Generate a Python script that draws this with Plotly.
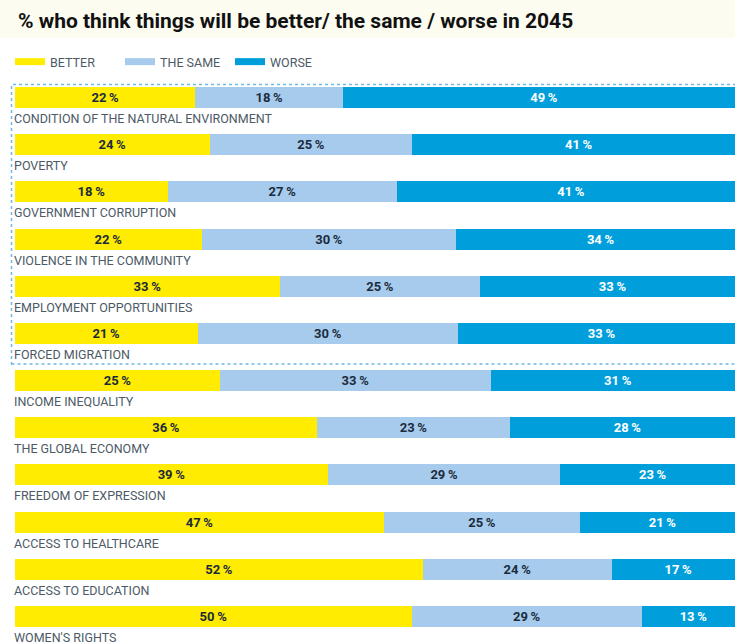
import plotly.graph_objects as go

categories = [
    "CONDITION OF THE NATURAL ENVIRONMENT", "POVERTY", "GOVERNMENT CORRUPTION",
    "VIOLENCE IN THE COMMUNITY", "EMPLOYMENT OPPORTUNITIES", "FORCED MIGRATION",
    "INCOME INEQUALITY", "THE GLOBAL ECONOMY", "FREEDOM OF EXPRESSION",
    "ACCESS TO HEALTHCARE", "ACCESS TO EDUCATION", "WOMEN'S RIGHTS",
]
better = [22, 24, 18, 22, 33, 21, 25, 36, 39, 47, 52, 50]
same = [18, 25, 27, 30, 25, 30, 33, 23, 29, 25, 24, 29]
worse = [49, 41, 41, 34, 33, 33, 31, 28, 23, 21, 17, 13]
series_names = ["BETTER", "THE SAME", "WORSE"]

colors = ["#FFEC00", "#A7CBEC", "#009FDB"]
text_colors = ["#1C2B3C", "#1C2B3C", "#FFFFFF"]

W, H = 735, 643
ML, MR, MT, MB = 15, 0, 0, 3
PW, PH = W - ML - MR, H - MT - MB
ROW0_PX = 97.6      # pixel centre of the first row
PITCH = 47.17       # pixel distance between rows


def px_x(p):
    return (p - ML) / PW


def px_y(p):
    return 1 - (p - MT) / PH


y_top = (MT - ROW0_PX) / PITCH
y_bot = (MT + PH - ROW0_PX) / PITCH

fig = go.Figure()
for name, vals, col, tcol in zip(series_names, [better, same, worse], colors, text_colors):
    fig.add_trace(go.Bar(
        y=categories, x=vals, orientation="h", name=name,
        marker=dict(color=col, line=dict(width=0)),
        text=[f"{v}\u2009%" for v in vals],
        textposition="inside", insidetextanchor="middle", textangle=0,
        insidetextfont=dict(family="Roboto", size=13, color=tcol, weight="bold"),
        showlegend=False, hoverinfo="skip",
    ))
    fig.add_trace(go.Scatter(
        x=[None], y=[None], mode="lines", name=name,
        line=dict(color=col, width=7), hoverinfo="skip",
    ))

annotations = [
    dict(text="% who think things will be better/ the same / worse in 2045",
         xref="paper", yref="paper", x=px_x(16), y=px_y(21),
         xanchor="left", yanchor="middle", showarrow=False,
         font=dict(family="Roboto", size=21, color="#111111", weight="bold")),
]
for c in categories:
    annotations.append(dict(
        text=c, xref="paper", yref="y", x=0, y=c, yshift=-21, xshift=-3,
        xanchor="left", yanchor="middle", showarrow=False,
        font=dict(family="Roboto", size=12.5, color="#4D5A66"),
    ))

shapes = [
    dict(type="rect", xref="paper", yref="paper", x0=px_x(0), x1=px_x(W), y0=px_y(38), y1=px_y(0),
         fillcolor="#FCFCF1", line=dict(width=0), layer="below"),
    dict(type="rect", xref="paper", yref="paper", x0=px_x(11.5), x1=px_x(W + 3), y0=px_y(364), y1=px_y(84.5),
         fillcolor="rgba(0,0,0,0)", line=dict(color="#6FB8E4", width=1.5, dash="dot")),
]

fig.update_layout(
    width=W, height=H,
    margin=dict(l=ML, r=MR, t=MT, b=MB),
    barmode="stack", barnorm="percent", bargap=0.555,
    paper_bgcolor="white", plot_bgcolor="rgba(0,0,0,0)",
    xaxis=dict(visible=False, range=[0, 100 * PW / 730], fixedrange=True),
    yaxis=dict(visible=False, range=[y_bot, y_top], fixedrange=True),
    legend=dict(orientation="h", x=px_x(10), y=px_y(62), xanchor="left", yanchor="middle",
                entrywidth=65, entrywidthmode="pixels",
                font=dict(family="Roboto", size=12.5, color="#4D5A66"),
                bgcolor="rgba(0,0,0,0)", traceorder="normal"),
    annotations=annotations, shapes=shapes,
    font=dict(family="Roboto"),
)

fig.write_html("out.html")
